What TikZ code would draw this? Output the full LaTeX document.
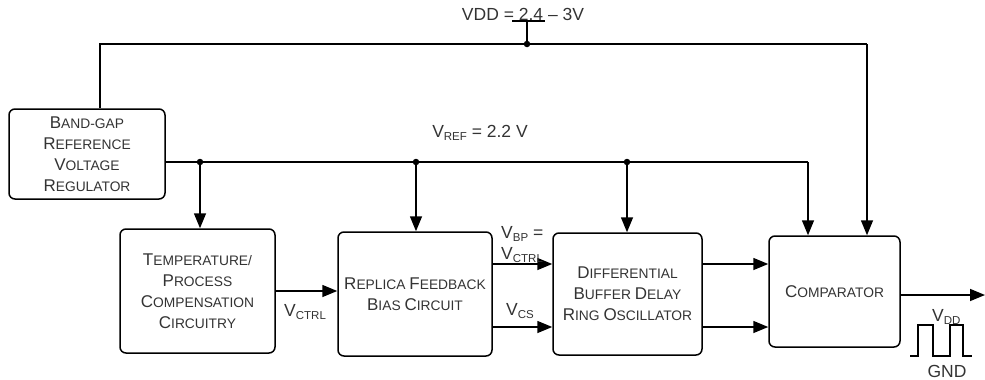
\documentclass[tikz,border=0pt]{standalone}
\usepackage{fontspec}
\setmainfont{Liberation Sans}
\usetikzlibrary{arrows.meta,calc}
\newcommand\fsc[2]{{\fontsize{17}{21}\selectfont #1}{\fontsize{13.8}{21}\selectfont #2}}
\newcommand\subsc[1]{\raisebox{-2.8pt}{\fontsize{11.5}{11.5}\selectfont #1}}
\begin{document}
\begin{tikzpicture}[x=1pt,y=-1pt,
  box/.style={draw,line width=1.5pt,rounded corners=6pt,align=center,inner sep=0pt,text=black!80,font=\fontsize{13.8}{21}\selectfont},
  wire/.style={line width=1.5pt},
  arr/.style={wire,-{Triangle[length=15pt,width=12pt]}},
  dot/.style={circle,fill,inner sep=0pt,minimum size=6.5pt},
  lbl/.style={text=black!80,font=\fontsize{17.5}{19}\selectfont,inner sep=0pt}]
\useasboundingbox (0,0) rectangle (985,380);

\node[box,minimum width=156pt,minimum height=90pt] (bg) at (87,154)
  {\fsc{B}{AND-GAP}\\\fsc{R}{EFERENCE}\\\fsc{V}{OLTAGE}\\\fsc{R}{EGULATOR}};
\node[box,minimum width=155pt,minimum height=124pt] (temp) at (197.5,291)
  {\fsc{T}{EMPERATURE/}\\\fsc{P}{ROCESS}\\\fsc{C}{OMPENSATION}\\\fsc{C}{IRCUITRY}};
\node[box,minimum width=154pt,minimum height=124pt] (rep) at (415,294)
  {\fsc{R}{EPLICA} \fsc{F}{EEDBACK}\\\fsc{B}{IAS} \fsc{C}{IRCUIT}};
\node[box,minimum width=149pt,minimum height=122pt] (diff) at (627.5,294)
  {\fsc{D}{IFFERENTIAL}\\\fsc{B}{UFFER} \fsc{D}{ELAY}\\\fsc{R}{ING} \fsc{O}{SCILLATOR}};
\node[box,minimum width=131pt,minimum height=111pt] (comp) at (834.5,291.5)
  {\fsc{C}{OMPARATOR}};

% VDD rail
\node[lbl] (vdd) at (523,14) {VDD = 2.4 -- 3V};
\coordinate (vtap) at (527,44);
\coordinate (vl) at (100,44);
\coordinate (vr) at (867,44);
\draw[wire,line width=1.3pt] (512,21) -- (545,21);
\draw[wire] (527,21) -- (vtap);
\node[dot] at (vtap) {};
\draw[wire] (bg.north -| vl) -- (vl) -- (vr);
\draw[arr] (vr) -- (vr |- comp.north);

% VREF rail
\node[lbl] (vref) at (480,133) {V\subsc{REF} = 2.2 V};
\coordinate (r1) at (200,162);
\coordinate (r2) at (416,162);
\coordinate (r3) at (627,162);
\coordinate (r4) at (808,162);
\draw[wire] (bg.east |- r1) -- (r4);
\draw[arr] (r4) -- (r4 |- comp.north);
\foreach \p/\b in {r1/temp,r2/rep,r3/diff}{
  \node[dot] at (\p) {};
  \draw[arr] (\p) -- (\p |- \b.north);
}

% signal arrows
\draw[arr] (temp.east) -- (temp.east -| rep.west);
\node[lbl,anchor=west] (vctrl) at (284,312) {V\subsc{CTRL}};

\coordinate (a1) at (0,264);
\coordinate (a2) at (0,327);
\draw[arr] (rep.east |- a1) -- (diff.west |- a1);
\draw[arr] (rep.east |- a2) -- (diff.west |- a2);
\node[lbl,anchor=west] (vbp) at (501,234) {V\subsc{BP} =};
\node[lbl,anchor=west] (vbp2) at (501,255) {V\subsc{CTRL}};
\node[lbl,anchor=west] (vcs) at (506,311) {V\subsc{CS}};

\draw[arr] (diff.east |- a1) -- (comp.west |- a1);
\draw[arr] (diff.east |- a2) -- (comp.west |- a2);

\coordinate (out) at (985,295);
\draw[arr] (comp.east |- out) -- (out);

% waveform
\draw[line width=1.2pt] (910,356) -- (918,356) -- (918,325) -- (933,325) -- (933,356)
  -- (950,356) -- (950,325) -- (963,325) -- (963,356) -- (972,356);
\node[lbl,anchor=west] (vddo) at (932,317) {V\subsc{DD}};
\node[lbl] (gnd) at (947,371) {GND};
\end{tikzpicture}
\end{document}
